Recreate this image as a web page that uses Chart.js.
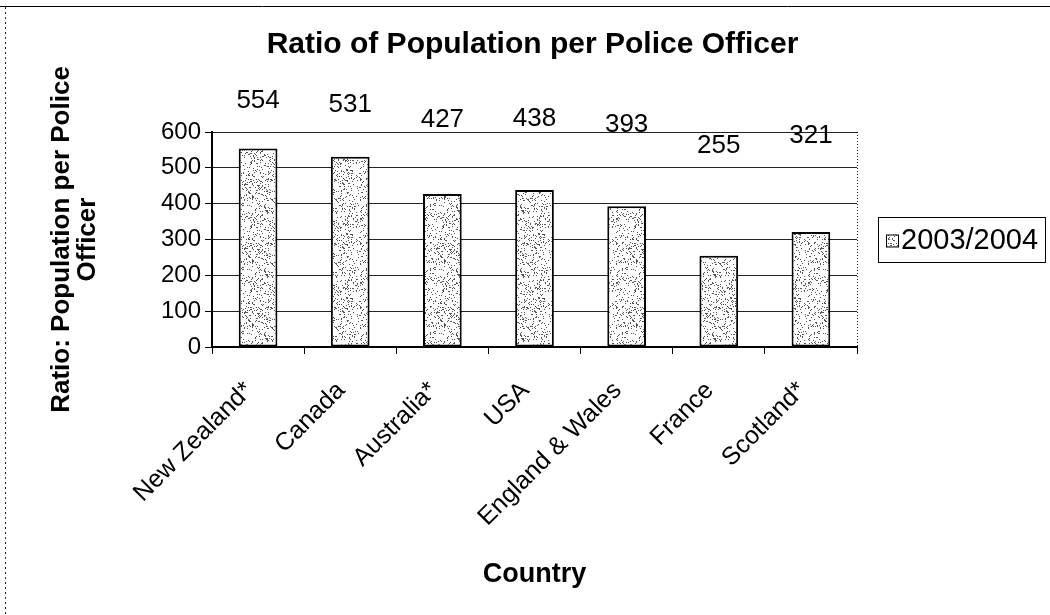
<!DOCTYPE html>
<html>
<head>
<meta charset="utf-8">
<script src="https://cdn.jsdelivr.net/npm/chart.js@4"></script>
<style>
  html, body { margin: 0; padding: 0; background: #fff; }
  #wrap { width: 1050px; height: 615px; }
</style>
</head>
<body>
<div id="wrap"><canvas id="chart" width="1050" height="615"></canvas></div>
<script>
/* Ratio of Population per Police Officer — Excel-style stippled bars */

const countries   = ['New Zealand*', 'Canada', 'Australia*', 'USA', 'England & Wales', 'France', 'Scotland*'];
const ratio0304   = [554, 531, 427, 438, 393, 255, 321];
const seriesLabel = '2003/2004';
const chartTitle  = 'Ratio of Population per Police Officer';
const yTicks      = [0, 100, 200, 300, 400, 500, 600];

const FONT = "'Liberation Sans', Arial, sans-serif";

// stipple fill, like the old Excel pattern (fixed hash, not data)
function stipple() {
    const c = document.createElement('canvas');
    c.width = 64; c.height = 64;
    const g = c.getContext('2d');
    g.fillStyle = '#fff';
    g.fillRect(0, 0, c.width, c.height);
    g.fillStyle = '#555';
    for (let y = 0; y < 64; y++) {
        for (let x = 0; x < 64; x++) {
            const h = ((x * 73856093) ^ (y * 19349663)) >>> 0;
            if (h % 100 < 14) g.fillRect(x, y, 1, 1);
        }
    }
    return g.createPattern(c, 'repeat');
}
const fill = stipple();

// title, value labels, plot frame, legend box
const extras = {
    id: 'extras',
    afterDatasetsDraw(chart) {
        const { ctx, chartArea: a } = chart;
        const meta = chart.getDatasetMeta(0);
        ctx.save();
        ctx.font = '26px ' + FONT;
        ctx.fillStyle = '#000';
        ctx.textAlign = 'center';
        ctx.textBaseline = 'middle';
        meta.data.forEach((bar, i) => {
            const y = a.top - 38 + (bar.y - a.top) * 0.42;
            ctx.fillText(String(ratio0304[i]), bar.x, y);
        });
        ctx.restore();
    },
    afterDraw(chart) {
        const { ctx, chartArea: a } = chart;
        ctx.save();
        // title
        ctx.fillStyle = '#000';
        ctx.font = 'bold 30px ' + FONT;
        ctx.textAlign = 'center';
        ctx.textBaseline = 'middle';
        ctx.fillText(chartTitle, (a.left + a.right) / 2 - 2, 45);

        // dotted right edge of plot area
        ctx.strokeStyle = '#222';
        ctx.lineWidth = 1;
        ctx.setLineDash([1, 2]);
        ctx.beginPath();
        ctx.moveTo(a.right + 0.5, a.top);
        ctx.lineTo(a.right + 0.5, a.bottom);
        ctx.stroke();
        // chart outer border
        ctx.setLineDash([2, 3]);
        ctx.beginPath();
        ctx.moveTo(5.5, 7);
        ctx.lineTo(5.5, 615);
        ctx.stroke();
        ctx.setLineDash([]);
        ctx.strokeStyle = '#000';
        ctx.beginPath();
        ctx.moveTo(0, 6.5);
        ctx.lineTo(1050, 6.5);
        ctx.stroke();

        // legend
        const lx = 878, ly = 217, lw = 167, lh = 45;
        ctx.strokeRect(lx + 0.5, ly + 0.5, lw, lh);
        const cy = ly + lh / 2 + 1;
        ctx.fillStyle = fill;
        ctx.fillRect(886, cy - 6, 12, 12);
        ctx.strokeRect(886.5, cy - 5.5, 12, 12);
        ctx.fillStyle = '#000';
        ctx.font = '29px ' + FONT;
        ctx.textAlign = 'left';
        ctx.fillText(chart.data.datasets[0].label, 901, cy);
        ctx.restore();
    }
};

new Chart(document.getElementById('chart'), {
    type: 'bar',
    data: {
        labels: countries,
        datasets: [{
            label: seriesLabel,
            data: ratio0304,
            backgroundColor: fill,
            borderColor: '#000',
            borderWidth: 2,
            borderSkipped: false,
            categoryPercentage: 1.0,
            barPercentage: 0.42
        }]
    },
    options: {
        responsive: false,
        animation: false,
        layout: { padding: { left: 40, right: 193, top: 132, bottom: 8 } },
        plugins: {
            legend: { display: false },
            tooltip: { enabled: false },
            title: { display: false }
        },
        scales: {
            x: {
                afterFit: s => { s.height = 615 - 8 - 347; s.paddingLeft = 0; s.paddingRight = 0; },
                grid: { drawOnChartArea: false, drawTicks: true, tickLength: 7, color: '#000', offset: true },
                border: { display: true, color: '#000', width: 2 },
                ticks: {
                    color: '#000', font: { family: FONT, size: 25 },
                    maxRotation: 45, minRotation: 45, padding: 22, labelOffset: -9
                },
                title: {
                    display: true, text: 'Country', color: '#000',
                    font: { family: FONT, size: 27, weight: 'bold', lineHeight: 1.0 },
                    padding: { bottom: 19 }
                }
            },
            y: {
                min: 0, max: 600,
                afterFit: s => { s.width = 212 - 40; },
                afterBuildTicks: s => { s.ticks = yTicks.map(v => ({ value: v })); },
                grid: {
                    color: '#222', borderDash: [1, 2], tickBorderDash: [],
                    tickColor: '#000', tickLength: 7
                },
                border: { display: true, color: '#000', width: 2 },
                ticks: { color: '#000', font: { family: FONT, size: 24 }, padding: 4 },
                title: {
                    display: true,
                    text: ['Ratio: Population per Police', 'Officer'],
                    color: '#000',
                    font: { family: FONT, size: 26, weight: 'bold', lineHeight: 1.0 },
                    padding: { top: 9 }
                }
            }
        }
    },
    plugins: [extras]
});
</script>
</body>
</html>
